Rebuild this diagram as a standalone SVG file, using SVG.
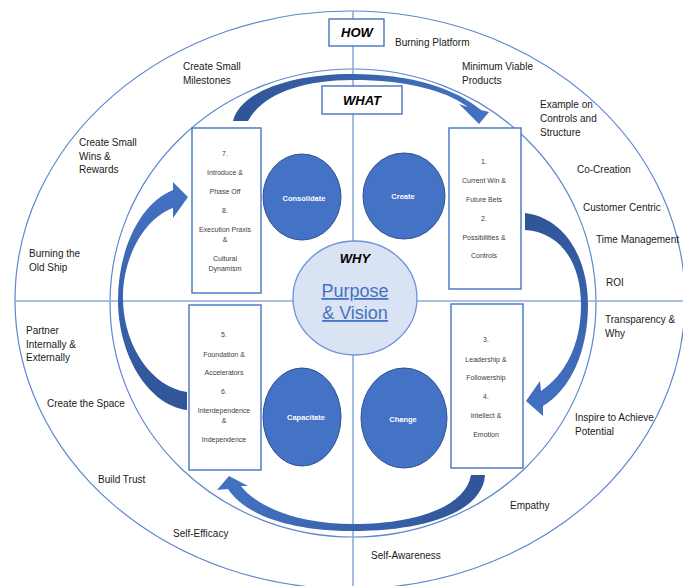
<svg xmlns="http://www.w3.org/2000/svg" width="683" height="586" viewBox="0 0 683 586">
<defs>
<style>
.ring{fill:none;stroke:#5F86CF;stroke-width:1.2}
.axis{stroke:#8FAADC;stroke-width:1.6}
.lbl{font-family:"Liberation Sans",Arial,sans-serif;font-size:10px;fill:#1a1a1a}
.box{fill:#fff;stroke:#4472C4;stroke-width:1.4}
.bt{font-family:"Liberation Sans",Arial,sans-serif;font-size:7px;fill:#404040;text-anchor:middle}
.head{font-family:"Liberation Sans",Arial,sans-serif;font-size:13px;font-weight:bold;font-style:italic;fill:#000;text-anchor:middle}
.disc{fill:#4472C4;stroke:#2F528F;stroke-width:1}
.dt{font-family:"Liberation Sans",Arial,sans-serif;font-size:7.5px;font-weight:bold;fill:#fff;text-anchor:middle}
.pv{font-family:"Liberation Sans",Arial,sans-serif;font-size:18px;fill:#4472C4;text-anchor:middle;text-decoration:underline}
</style>
<linearGradient id="gTop" x1="0" y1="0" x2="1" y2="0"><stop offset="0" stop-color="#2F5597"/><stop offset="1" stop-color="#4472C4"/></linearGradient>
<linearGradient id="gLeft" x1="0" y1="1" x2="0" y2="0"><stop offset="0" stop-color="#2F5597"/><stop offset="1" stop-color="#4472C4"/></linearGradient>
<linearGradient id="gRight" x1="0" y1="0" x2="0" y2="1"><stop offset="0" stop-color="#2F5597"/><stop offset="1" stop-color="#4472C4"/></linearGradient>
<linearGradient id="gBottom" x1="1" y1="0" x2="0" y2="0"><stop offset="0" stop-color="#2F5597"/><stop offset="1" stop-color="#4472C4"/></linearGradient>
</defs>
<rect width="683" height="586" fill="#fff"/>

<g id="rings">
<ellipse class="ring" cx="350" cy="300" rx="335" ry="289"/>
<ellipse class="ring" cx="353" cy="303" rx="243" ry="234"/>
<line class="axis" x1="15" y1="301" x2="683" y2="301"/>
<line class="axis" x1="353" y1="11" x2="353" y2="586"/>
</g>

<g id="connectors">
<path fill="url(#gTop)" d="M 233 121 C 240 92 290 74 353 74 C 410 74 455 88 481 110 L 489 112 L 479 124 L 459 104 L 468 107 C 445 90 405 80 353 80 C 300 80 262 95 248 121 Z"/>
<path fill="url(#gLeft)" d="M 188 197 L 173 182 L 173 190 C 140 203 118 250 118 300 C 118 355 148 405 187 410 L 187 392 C 152 387 124 347 123 300 C 122 257 145 218 173 208 L 173 218 Z"/>
<path fill="url(#gRight)" d="M 525 213 C 565 218 588 258 588 305 C 588 352 570 390 543 406 L 543 416 L 526 401 L 540 381 L 541 391 C 565 375 581 345 581 305 C 581 262 560 232 525 230 Z"/>
<path fill="url(#gBottom)" d="M 471 475 L 485 475 C 483 510 430 531 353 531 C 290 531 245 515 228 489 L 217 490 L 229 476 L 248 486 L 241 486 C 258 508 300 524 353 524 C 420 524 466 505 471 475 Z"/>
</g>

<g id="how">
<rect class="box" x="329" y="19" width="55" height="27"/>
<text class="head" x="357" y="37">HOW</text>
</g>
<g id="what">
<rect class="box" x="322" y="86" width="80" height="28"/>
<text class="head" x="362" y="105">WHAT</text>
</g>

<g id="box-7-8">
<rect class="box" x="192" y="128" width="69" height="165"/>
<text class="bt" x="225" y="155.5">7.</text>
<text class="bt" x="225" y="175">Introduce &amp;</text>
<text class="bt" x="225" y="193.5">Phase Off</text>
<text class="bt" x="225" y="212.5">8.</text>
<text class="bt" x="225" y="231.5">Execution Praxis</text>
<text class="bt" x="225" y="241.5">&amp;</text>
<text class="bt" x="225" y="260.5">Cultural</text>
<text class="bt" x="225" y="270.5">Dynamism</text>
</g>
<g id="box-1-2">
<rect class="box" x="449" y="128" width="72" height="161"/>
<text class="bt" x="484" y="164">1.</text>
<text class="bt" x="484" y="183">Current Win &amp;</text>
<text class="bt" x="484" y="201.5">Future Bets</text>
<text class="bt" x="484" y="220.5">2.</text>
<text class="bt" x="484" y="239.5">Possibilities &amp;</text>
<text class="bt" x="484" y="258">Controls</text>
</g>
<g id="box-5-6">
<rect class="box" x="189" y="305" width="72" height="165"/>
<text class="bt" x="224" y="336.5">5.</text>
<text class="bt" x="224" y="356.5">Foundation &amp;</text>
<text class="bt" x="224" y="374.5">Accelerators</text>
<text class="bt" x="224" y="394">6.</text>
<text class="bt" x="224" y="413">Interdependence</text>
<text class="bt" x="224" y="423">&amp;</text>
<text class="bt" x="224" y="441.5">Independence</text>
</g>
<g id="box-3-4">
<rect class="box" x="451" y="304" width="72" height="164"/>
<text class="bt" x="486" y="341.5">3.</text>
<text class="bt" x="486" y="361.5">Leadership &amp;</text>
<text class="bt" x="486" y="379.5">Followership</text>
<text class="bt" x="486" y="399">4.</text>
<text class="bt" x="486" y="418">Intellect &amp;</text>
<text class="bt" x="486" y="436.5">Emotion</text>
</g>

<g id="consolidate">
<ellipse class="disc" cx="302" cy="197" rx="39" ry="43"/>
<text class="dt" x="304" y="200.5">Consolidate</text>
</g>
<g id="create">
<ellipse class="disc" cx="404" cy="196" rx="41" ry="43"/>
<text class="dt" x="403" y="198.5">Create</text>
</g>
<g id="capacitate">
<ellipse class="disc" cx="302" cy="417" rx="39" ry="49"/>
<text class="dt" x="306" y="419.5">Capacitate</text>
</g>
<g id="change">
<ellipse class="disc" cx="404" cy="418" rx="43" ry="50"/>
<text class="dt" x="403" y="421.5">Change</text>
</g>

<g id="why">
<ellipse cx="355" cy="298" rx="62" ry="57" fill="#DAE3F3" stroke="#6E93D6" stroke-width="1.3"/>
<text class="head" x="355" y="263">WHY</text>
<text class="pv" x="355" y="297">Purpose</text>
<text class="pv" x="355" y="319">&amp; Vision</text>
</g>

<g id="labels">
<text class="lbl" x="395" y="46">Burning Platform</text>
<text class="lbl" x="183" y="70">Create Small</text>
<text class="lbl" x="183" y="83.5">Milestones</text>
<text class="lbl" x="462" y="70">Minimum Viable</text>
<text class="lbl" x="462" y="83.5">Products</text>
<text class="lbl" x="540" y="108">Example on</text>
<text class="lbl" x="540" y="122">Controls and</text>
<text class="lbl" x="540" y="136">Structure</text>
<text class="lbl" x="577" y="173">Co-Creation</text>
<text class="lbl" x="583" y="211">Customer Centric</text>
<text class="lbl" x="596" y="243">Time Management</text>
<text class="lbl" x="606" y="286">ROI</text>
<text class="lbl" x="605" y="323">Transparency &amp;</text>
<text class="lbl" x="605" y="337">Why</text>
<text class="lbl" x="575" y="421">Inspire to Achieve</text>
<text class="lbl" x="575" y="435">Potential</text>
<text class="lbl" x="510" y="509">Empathy</text>
<text class="lbl" x="371" y="559">Self-Awareness</text>
<text class="lbl" x="173" y="537">Self-Efficacy</text>
<text class="lbl" x="98" y="483">Build Trust</text>
<text class="lbl" x="47" y="407">Create the Space</text>
<text class="lbl" x="26" y="334">Partner</text>
<text class="lbl" x="26" y="348">Internally &amp;</text>
<text class="lbl" x="26" y="361">Externally</text>
<text class="lbl" x="29" y="257">Burning the</text>
<text class="lbl" x="29" y="271">Old Ship</text>
<text class="lbl" x="79" y="146">Create Small</text>
<text class="lbl" x="79" y="160">Wins &amp;</text>
<text class="lbl" x="79" y="173">Rewards</text>
</g>
</svg>
